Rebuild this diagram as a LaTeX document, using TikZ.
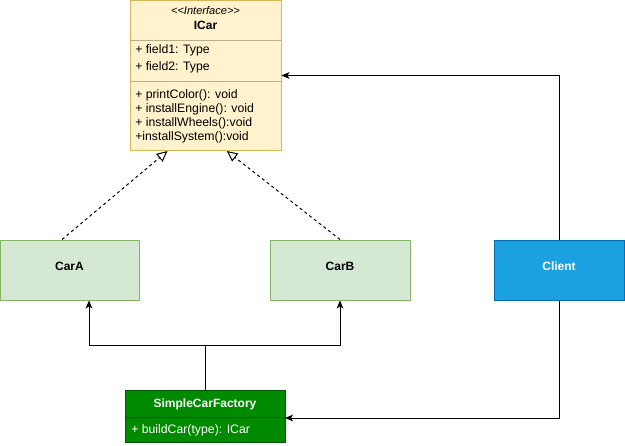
\documentclass[tikz,border=0pt]{standalone}
\usepackage{fontspec}
\setmainfont{Liberation Sans}
\usetikzlibrary{arrows.meta,calc}
\definecolor{ifill}{HTML}{FFF2CC}
\definecolor{istroke}{HTML}{D6B656}
\definecolor{isep}{HTML}{B9AE8E}
\definecolor{gfill}{HTML}{D5E8D4}
\definecolor{gstroke}{HTML}{82B366}
\definecolor{cfill}{HTML}{1BA1E2}
\definecolor{cstroke}{HTML}{006EAF}
\definecolor{ffill}{HTML}{008A00}
\definecolor{fstroke}{HTML}{005700}
\tikzset{
  box/.style={draw, rectangle, inner sep=0pt, line width=0.75pt},
  member/.style={anchor=west, inner sep=0pt, font=\fontsize{9.2}{11}\selectfont},
  title/.style={inner sep=0pt, font=\fontsize{9}{11}\selectfont\bfseries},
  boxtext/.style={font=\fontsize{9}{11}\selectfont\bfseries, text depth=6pt},
  arr/.style={draw=black, line width=0.75pt, -{Stealth[length=6pt,width=5pt,inset=1.5pt]}},
  real/.style={draw=black, line width=0.75pt, dashed, dash pattern=on 2.25pt off 2.25pt,
    -{Triangle[open,length=8pt,width=7.5pt,fill=white]}},
}
\begin{document}
\begin{tikzpicture}[x=0.75pt,y=-0.75pt]
\useasboundingbox (0,0) rectangle (625,446);
% ICar
\node[box, draw=istroke, fill=ifill, minimum width=113.25pt, minimum height=112.5pt] (icar) at (205.5,75.5) {};
\draw[isep, line width=0.75pt] (130.5,40) -- (280.5,40);
\draw[isep, line width=0.75pt] (130.5,81) -- (280.5,81);
\node[inner sep=0pt, font=\fontsize{8.3}{9}\selectfont\itshape] (stereo) at (205.5,11) {<\kern0pt<\kern0pt Interface>\kern0pt>};
\node[title] (icarname) at (205.5,25) {ICar};
\node[member] (f1) at (135,50) {+ field1: Type};
\node[member] (f2) at (135,67) {+ field2: Type};
\node[member] (m1) at (135,95) {+ printColor(): void};
\node[member] (m2) at (135,109) {+ installEngine(): void};
\node[member] (m3) at (135,123) {+ installWheels():void};
\node[member] (m4) at (135,137) {+installSystem():void};
% CarA, CarB
\node[box, boxtext, draw=gstroke, fill=gfill, minimum width=104.25pt, minimum height=45pt] (carA) at (69.5,270) {CarA};
\node[box, boxtext, draw=gstroke, fill=gfill, minimum width=105pt, minimum height=45pt] (carB) at (340,270) {CarB};
% Client
\node[box, boxtext, draw=cstroke, fill=cfill, text=white, minimum width=97.5pt, minimum height=45pt] (client) at (559,270) {Client};
% Factory
\node[box, draw=fstroke, fill=ffill, minimum width=120pt, minimum height=39pt] (factory) at (205,416) {};
\draw[fstroke, line width=0.75pt] (125,417) -- (285,417);
\node[title, text=white] (fname) at (205,404) {SimpleCarFactory};
\node[member, text=white] (fm) at (131,430) {+ buildCar(type): ICar};
% connectors
\coordinate (ja) at (89,345);
\coordinate (jb) at (340,345);
\draw[arr] (factory.north) |- (ja) -- (carA.south -| ja);
\draw[arr] (factory.north) |- (jb) -- (carB.south -| jb);
\draw[arr] (client.north) |- (icar.east);
\coordinate (fin) at (285,418);
\draw[arr] (client.south) |- (fin);
\draw[real] ([xshift=-5.6pt]carA.north) -- ([xshift=-28.5pt]icar.south);
\draw[real] (carB.north) -- ([xshift=16pt]icar.south);
\end{tikzpicture}
\end{document}
